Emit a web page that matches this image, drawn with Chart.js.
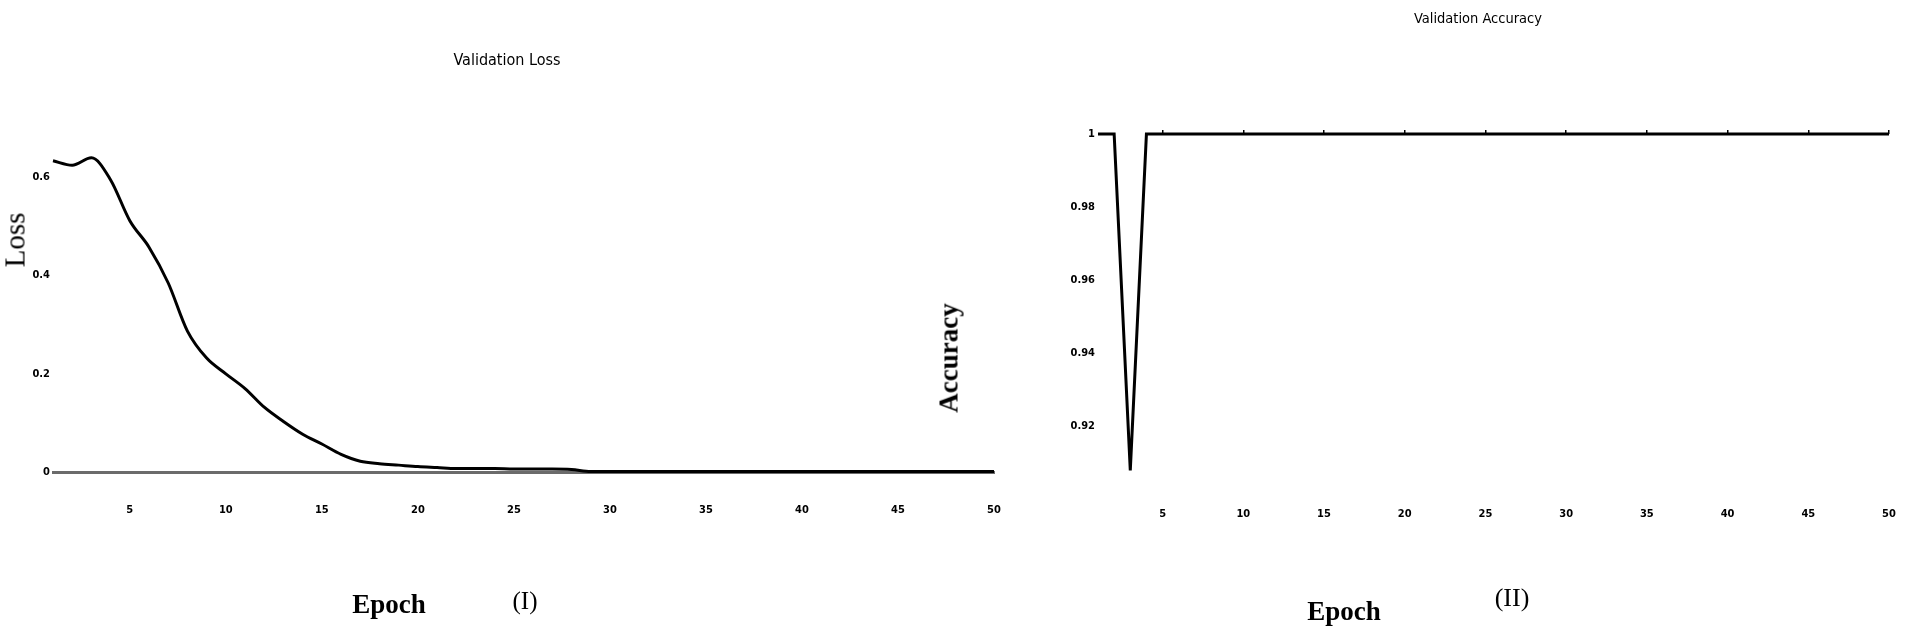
<!DOCTYPE html>
<html>
<head>
<meta charset="utf-8">
<script src="https://cdn.jsdelivr.net/npm/chart.js@4.4.1/dist/chart.umd.min.js"></script>
<style>
html,body{margin:0;padding:0;background:#fff;width:1905px;height:630px;overflow:hidden;}
#wrap{position:relative;width:1905px;height:630px;}
.cv{position:absolute;top:0;}
.lbl{position:absolute;white-space:nowrap;color:#000;transform:translate(-50%,-50%);line-height:1;}
.title{font-family:'Liberation Sans Narrow','DejaVu Sans Condensed',sans-serif;font-stretch:condensed;}
.serif{font-family:'Liberation Serif','DejaVu Serif',serif;}
.rot{transform:translate(-50%,-50%) rotate(-90deg);}
</style>
</head>
<body>
<div id="wrap">
  <canvas id="lossChart" class="cv" style="left:0px;" width="1010" height="630"></canvas>
  <canvas id="accChart" class="cv" style="left:1000px;" width="905" height="630"></canvas>

  <div class="lbl title" style="left:507px;top:60px;font-size:16px;">Validation Loss</div>
  <div class="lbl title" style="left:1478px;top:18px;font-size:14.5px;">Validation Accuracy</div>
  <div class="lbl serif rot" style="left:15px;top:240px;font-size:29px;">Loss</div>
  <div class="lbl serif rot" style="left:949px;top:358px;font-size:27px;font-weight:bold;">Accuracy</div>
  <div class="lbl serif" style="left:389px;top:604px;font-size:27px;font-weight:bold;">Epoch</div>
  <div class="lbl serif" style="left:525px;top:600px;font-size:25px;">(I)</div>
  <div class="lbl serif" style="left:1344px;top:611px;font-size:27px;font-weight:bold;">Epoch</div>
  <div class="lbl serif" style="left:1512px;top:598px;font-size:26px;">(II)</div>
</div>
<script>
// ---- data ----
const epochs = [1,2,3,4,5,6,7,8,9,10,11,12,13,14,15,16,17,18,19,20,21,22,23,24,25,26,27,28,29,30,31,32,33,34,35,36,37,38,39,40,41,42,43,44,45,46,47,48,49,50];
const lossValues = [0.634,0.625,0.640,0.595,0.512,0.458,0.385,0.287,0.232,0.200,
                    0.170,0.132,0.103,0.077,0.057,0.036,0.022,0.017,0.014,0.011,
                    0.009,0.007,0.007,0.007,0.006,0.006,0.006,0.005,0.001,0.001,
                    0.001,0.001,0.001,0.001,0.001,0.001,0.001,0.001,0.001,0.001,
                    0.001,0.001,0.001,0.001,0.001,0.001,0.001,0.001,0.001,0.001];
const accuracyValues = [1,1,0.908,1,1,1,1,1,1,1,
                        1,1,1,1,1,1,1,1,1,1,
                        1,1,1,1,1,1,1,1,1,1,
                        1,1,1,1,1,1,1,1,1,1,
                        1,1,1,1,1,1,1,1,1,1];
const xTickValues = [5,10,15,20,25,30,35,40,45,50];
const lossTickValues = [0,0.2,0.4,0.6];
const accuracyTickValues = [0.92,0.94,0.96,0.98,1];

// ---- chart setup ----
const tickFont = {family:"'Liberation Sans Narrow','DejaVu Sans Condensed',sans-serif", size:11, weight:'bold'};
function fixedTicks(values){ return function(scale){ scale.ticks = values.map(v => ({value:v})); }; }
function points(xs, ys){ return xs.map((x,i) => ({x:x, y:ys[i]})); }
// invisible tick marks push the x labels down without adding side padding
function hiddenTickGrid(len){ return {display:true, drawOnChartArea:false, drawTicks:true, tickLength:len, color:'rgba(0,0,0,0)'}; }

new Chart(document.getElementById('lossChart'), {
  type:'line',
  data:{datasets:[{
    data: points(epochs, lossValues),
    borderColor:'#000', borderWidth:3, pointRadius:0,
    cubicInterpolationMode:'monotone', clip:false
  }]},
  options:{
    responsive:false, animation:false, devicePixelRatio:1,
    layout:{padding:{left:0,right:16,top:148,bottom:108}},
    plugins:{legend:{display:false}, tooltip:{enabled:false}, title:{display:false}},
    scales:{
      x:{type:'linear', min:1, max:50,
         afterBuildTicks: fixedTicks(xTickValues),
         afterFit(s){ s.height = 50; },
         grid: hiddenTickGrid(30),
         border:{display:true, color:'#6b6b6b', width:3},
         ticks:{padding:2, color:'#000', font:tickFont, maxRotation:0, autoSkip:false, callback:v=>String(v)}},
      y:{type:'linear', min:0, max:0.66,
         afterBuildTicks: fixedTicks(lossTickValues),
         afterFit(s){ s.width = 53; },
         grid:{display:false, drawTicks:false},
         border:{display:false},
         ticks:{padding:3, color:'#000', font:tickFont, callback:v=>String(v)}}
    }
  }
});

new Chart(document.getElementById('accChart'), {
  type:'line',
  data:{datasets:[{
    data: points(epochs, accuracyValues),
    borderColor:'#000', borderWidth:3, pointRadius:0, tension:0, clip:false,
    xAxisID:'x', yAxisID:'y'
  }]},
  options:{
    responsive:false, animation:false, devicePixelRatio:1,
    layout:{padding:{left:0,right:16,top:130,bottom:106}},
    plugins:{legend:{display:false}, tooltip:{enabled:false}, title:{display:false}},
    scales:{
      x:{type:'linear', position:'bottom', min:1, max:50,
         afterBuildTicks: fixedTicks(xTickValues),
         afterFit(s){ s.height = 50; },
         grid: hiddenTickGrid(32),
         border:{display:false},
         ticks:{padding:2, color:'#000', font:tickFont, maxRotation:0, autoSkip:false, callback:v=>String(v)}},
      xTop:{type:'linear', position:'top', min:1, max:50,
         afterBuildTicks: fixedTicks(xTickValues),
         afterFit(s){ s.height = 4; },
         grid:{display:true, drawOnChartArea:false, drawTicks:true, tickLength:4, color:'#000', lineWidth:1.5},
         border:{display:false},
         ticks:{display:false}},
      y:{type:'linear', min:0.907, max:1,
         afterBuildTicks: fixedTicks(accuracyTickValues),
         afterFit(s){ s.width = 98; },
         grid:{display:false, drawTicks:false},
         border:{display:false},
         ticks:{padding:3, color:'#000', font:tickFont, callback:v=>String(v)}}
    }
  }
});
</script>
</body>
</html>
